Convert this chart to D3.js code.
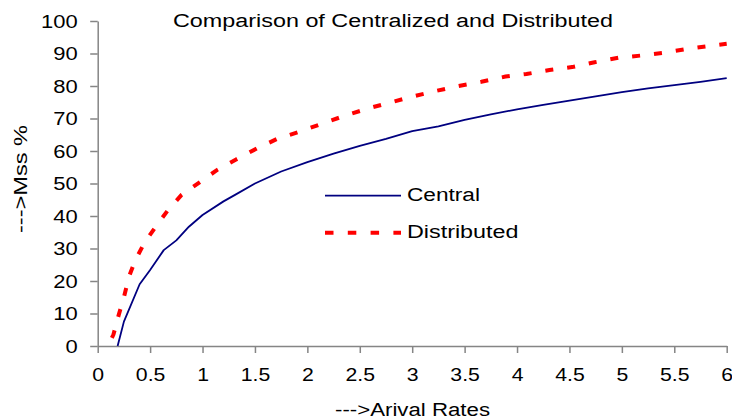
<!DOCTYPE html>
<html>
<head>
<meta charset="utf-8">
<script src="https://cdn.jsdelivr.net/npm/d3@7"></script>
<style>
  html, body { margin: 0; padding: 0; background: #fff; }
  svg text { font-family: "Liberation Sans", Arial, sans-serif; fill: #000; }
</style>
</head>
<body>
<svg id="chart" width="732" height="420"></svg>
<script>
// Arrival rate (x) and miss percentage (y) for each scheme
const centralX = [0.19, 0.25, 0.4, 0.5, 0.63, 0.75, 0.87, 1.0, 1.2, 1.31, 1.5, 1.75, 2.0, 2.25, 2.5, 2.75, 3.0, 3.25, 3.5, 3.75, 4.0, 4.25, 4.5, 4.75, 5.0, 5.25, 5.5, 5.75, 6.0];
const centralY = [0, 7.5, 19, 23.4, 29.5, 32.5, 36.7, 40.3, 44.5, 46.5, 50.0, 53.7, 56.6, 59.2, 61.6, 63.7, 66.1, 67.6, 69.6, 71.3, 72.8, 74.2, 75.5, 76.8, 78.1, 79.3, 80.3, 81.3, 82.4];

const distX = [0.135, 0.15, 0.2, 0.25, 0.3, 0.36, 0.45, 0.56, 0.67, 0.8, 1.0, 1.14, 1.32, 1.52, 1.71, 1.92, 2.14, 2.36, 2.58, 2.8, 3.02, 3.23, 3.44, 3.66, 3.89, 4.09, 4.31, 4.54, 4.74, 4.97, 5.19, 5.4, 5.62, 5.83, 6.0];
const distY = [2.5, 3.5, 9.5, 15, 21.5, 26.5, 32, 37, 41.8, 46.5, 51, 54.2, 57.4, 60.8, 63.7, 65.9, 68.4, 70.9, 73.1, 75, 76.9, 78.5, 80, 81.3, 82.9, 83.7, 84.9, 85.9, 87.3, 88.7, 89.4, 90.2, 91.4, 92.3, 93.0];

const xTicks = [0, 0.5, 1, 1.5, 2, 2.5, 3, 3.5, 4, 4.5, 5, 5.5, 6];
const yTicks = [0, 10, 20, 30, 40, 50, 60, 70, 80, 90, 100];

const titleText = "Comparison of Centralized and Distributed";
const xTitle = "--->Arival Rates";
const yTitle = "--->Mss %";
const seriesNames = ["Central", "Distributed"];

const svg = d3.select("#chart");
const plotLeft = 97.7, plotRight = 726.7, plotTop = 21, plotBottom = 346;

const x = d3.scaleLinear().domain([0, 6]).range([plotLeft, plotRight]);
const y = d3.scaleLinear().domain([0, 100]).range([plotBottom, plotTop]);

// Widen glyphs horizontally to the chart's broad lettering
function widen(sel, factor) {
  sel.each(function () {
    const len = this.getComputedTextLength();
    d3.select(this).attr("textLength", len * factor).attr("lengthAdjust", "spacingAndGlyphs");
  });
}
function fixLen(sel, len) {
  sel.attr("textLength", len).attr("lengthAdjust", "spacingAndGlyphs");
}

const axisColor = "#858585";

// Y axis
const gy = svg.append("g").attr("transform", `translate(${plotLeft},0)`)
  .call(d3.axisLeft(y).tickValues(yTicks).tickFormat(d3.format("d")).tickSize(7.5).tickSizeOuter(0).tickPadding(12.5));
gy.select(".domain").attr("stroke", axisColor).attr("stroke-width", 1.5);
gy.selectAll(".tick line").attr("stroke", axisColor).attr("stroke-width", 1.5);
gy.selectAll(".tick text").attr("font-size", 18).attr("fill", "#000").attr("dy", "0.36em");
widen(gy.selectAll(".tick text"), 1.22);

// X axis
const gx = svg.append("g").attr("transform", `translate(0,${plotBottom})`)
  .call(d3.axisBottom(x).tickValues(xTicks).tickFormat(d => String(d)).tickSize(7).tickSizeOuter(0).tickPadding(15));
gx.select(".domain").attr("stroke", axisColor).attr("stroke-width", 1.5);
gx.selectAll(".tick line").attr("stroke", axisColor).attr("stroke-width", 1.5);
gx.selectAll(".tick text").attr("font-size", 18).attr("fill", "#000");
widen(gx.selectAll(".tick text"), 1.18);

// Series lines
const line = d3.line().x(d => x(d[0])).y(d => y(d[1]));
const central = centralX.map((v, i) => [v, centralY[i]]);
const distributed = distX.map((v, i) => [v, distY[i]]);

svg.append("path").datum(central)
  .attr("d", line).attr("fill", "none")
  .attr("stroke", "#000080").attr("stroke-width", 1.8).attr("stroke-linejoin", "round");

svg.append("path").datum(distributed)
  .attr("d", line).attr("fill", "none")
  .attr("stroke", "#FF0000").attr("stroke-width", 4).attr("stroke-dasharray", "8,14");

// Title
const t = svg.append("text").attr("x", 393).attr("y", 27).attr("text-anchor", "middle")
  .attr("font-size", 18).text(titleText);
fixLen(t, 440);

// Axis titles
const xt = svg.append("text").attr("x", 412.5).attr("y", 416).attr("text-anchor", "middle")
  .attr("font-size", 18).text(xTitle);
fixLen(xt, 155);

const yt = svg.append("text").attr("transform", "translate(27,179) rotate(-90)")
  .attr("text-anchor", "middle").attr("font-size", 18).text(yTitle);
fixLen(yt, 108);

// Legend
const legend = svg.append("g");
legend.append("line").attr("x1", 325).attr("x2", 401).attr("y1", 195.7).attr("y2", 195.7)
  .attr("stroke", "#000080").attr("stroke-width", 1.8);
legend.append("line").attr("x1", 325).attr("x2", 401).attr("y1", 232.7).attr("y2", 232.7)
  .attr("stroke", "#FF0000").attr("stroke-width", 4).attr("stroke-dasharray", "8.5,14.3");
fixLen(legend.append("text").attr("x", 407).attr("y", 201).attr("font-size", 18).text(seriesNames[0]), 73);
fixLen(legend.append("text").attr("x", 407).attr("y", 238.3).attr("font-size", 18).text(seriesNames[1]), 111.5);
</script>
</body>
</html>
